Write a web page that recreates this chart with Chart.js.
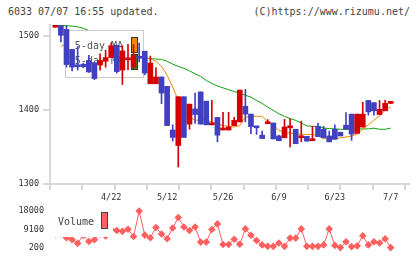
<!DOCTYPE html>
<html>
<head>
<meta charset="utf-8">
<script src="https://cdn.jsdelivr.net/npm/chart.js@4"></script>
<style>
body { margin: 0; background: #fff; }
#wrap { position: relative; width: 420px; height: 259px; overflow: hidden; }
.t { position: absolute; top: 6px; font: 10px "DejaVu Sans Mono", monospace; color: #444; white-space: pre; }
canvas { position: absolute; left: 0; }
</style>
</head>
<body>
<div id="wrap">
  <div class="t" style="left:8px">6033 07/07 16:55 updated.</div>
  <div class="t" style="right:10px">(C)https://www.rizumu.net/</div>
  <canvas id="price" width="420" height="205" style="top:0"></canvas>
  <canvas id="vol" width="420" height="59" style="top:200px"></canvas>
</div>
<script>
// daily candles (yen)
const open  = [1512,1514,1509,1482,1460.5,1462,1467,1464,1461,1466,1471,1487.5,1454,1468,1458,1472.5,1479.5,1435.5,1435.5,1444.7,
               1432,1373,1352,1418,1381,1401.5,1424.5,1412,1380,1390,1373,1373,1379,1384,1405,1394.5,1378,1366,1381.5,1382.5,
               1365,1362.5,1376,1374,1362.5,1364.5,1358.5,1378,1374,1365,1374,1370,1379.5,1394.5,1368.5,1377,1413,1410,1394,1399,1409];
const high  = [1514,1514,1514,1482,1486,1463,1474,1464,1476,1481,1491,1488,1487,1489,1488.5,1490.5,1479.5,1473,1457,1444.7,
               1432,1380,1418,1418,1408,1423,1424.5,1412,1413,1390,1397,1397,1390,1427,1428,1394.5,1378,1371.5,1387,1382.5,
               1366,1387.5,1388,1374,1385,1364.5,1378,1382,1378,1371.5,1380,1370,1396.7,1394.5,1394.5,1410.5,1413,1410,1413,1413,1410];
const low   = [1512,1492,1458,1453,1454,1457,1451,1441,1454,1458,1471,1450,1434.5,1454.5,1456,1465,1447.8,1435.5,1435.5,1408.5,
               1379,1358,1323,1363,1374,1382,1381,1380,1380,1357,1373,1373,1379,1384,1384,1368,1367,1361.5,1381.5,1361,
               1358.5,1362.5,1350,1354.5,1357,1358,1358.5,1364,1362.5,1357,1360.5,1365,1374,1359,1368.5,1377,1393,1393,1394,1399,1409];
const close = [1513.5,1501,1461.5,1458,1458.5,1458.5,1451.5,1442.6,1467,1471,1487,1452,1480,1469.5,1474,1470,1450,1463.5,1444.7,1423,
               1379,1363,1418,1363,1408,1394,1381,1380,1382,1366,1375,1377,1386,1427,1394.5,1377.5,1376,1361.5,1384,1361,
               1358.5,1377,1377.5,1354.5,1365,1358,1361,1364,1362.5,1357,1360.5,1365,1374,1367.5,1394.5,1394.5,1397.5,1399,1401,1409,1410];

// moving averages as drawn
const ma5  = [null,1486,1490,1476,1471,1466,1462,1459,1458,1459,1461,1463,1466,1467,1469,1470,1471,1469.5,1466,1459,
              1447,1431,1413,1402,1391,1386,1387,1387,1383.5,1381,1379,1378,1377,1379,1390.5,1391.3,1391.5,1391.5,1384,1379.6,
              1372.5,1370,1368.8,1368,1367.2,1367,1367,1365,1361.5,1360.5,1361,1362.5,1363.5,1365,1367.5,1374,1380,1386.5,1392,1400,1404];
const ma25 = [1514.5,1514.5,1514,1513.5,1512.5,1510.5,1507.5,1504,1500,1495,1491,1488,1484,1480,1476,1473,1470.3,1469.5,1469,1468.5,
              1466,1462,1459,1456.5,1453,1449,1445.5,1440,1436,1432.5,1430,1427.5,1425,1422.5,1420,1417.5,1413,1409,1404,1399.5,
              1395,1391.5,1388.5,1386,1382.5,1378.5,1378,1378,1375.5,1375,1374.5,1374,1374,1374,1374.5,1374.5,1374.5,1375.5,1374,1374,1375.5];

const volume = [6900,6900,5100,4200,2400,6400,3300,4200,6900,6000,9100,8650,8200,9250,5700,18000,6400,5100,10100,6900,
                4650,9850,14900,10300,8650,10300,3000,3000,9100,11800,1850,1850,4350,2000,9400,6300,3750,1650,950,950,
                2550,950,4950,4950,9400,950,950,950,1650,9400,1400,350,3200,800,1200,6100,1650,3200,2550,4650,350];

const xTickPos = [10, 20, 30, 40, 50, 60];
const xTickLabels = ['4/22', '5/12', '5/26', '6/9', '6/23', '7/7'];
const yTicks = [1300, 1400, 1500];
const volTicks = [200, 9100, 18000];

const UP = '#d40000', DOWN = '#4040c0';
const MA5C = '#f08800', MA25C = '#10a010', VOLC = '#ff5f5f', AXIS = '#d8d8d8';
const mono = '"DejaVu Sans Mono", monospace';
const axisFont = { family: mono, size: 8.5 };
const X_MIN = -0.95, X_MAX = 63.27;

const idx = close.map((c, i) => i);
const col = close.map((c, i) => c >= open[i] ? UP : DOWN);

// legend sits over the MA lines but under the candles
const priceLegend = {
  id: 'priceLegend',
  beforeDatasetDraw(chart, args) {
    if (args.index !== 1) return;
    const c = chart.ctx;
    c.save();
    c.fillStyle = '#fff';
    c.fillRect(65, 30, 78, 47);
    c.strokeStyle = '#cccccc';
    c.lineWidth = 1;
    c.strokeRect(65.5, 30.5, 78, 47);
    c.font = '10px ' + mono;
    c.fillStyle = '#555';
    c.textAlign = 'right';
    c.textBaseline = 'middle';
    c.fillText('5-day MA', 123, 46);
    c.fillText('25-day MA', 123, 61.5);
    c.strokeStyle = '#333';
    c.fillStyle = MA5C;
    c.fillRect(131, 37, 7, 15);
    c.strokeRect(131.5, 37.5, 6, 15);
    c.fillStyle = MA25C;
    c.fillRect(131, 54, 7, 15);
    c.strokeRect(131.5, 54.5, 6, 15);
    c.restore();
  }
};

new Chart(document.getElementById('price'), {
  type: 'bar',
  data: {
    datasets: [
      { type: 'bar', order: 0, grouped: false, barThickness: 5, minBarLength: 2,
        data: idx.map(i => ({ x: i, y: [Math.min(open[i], close[i]), Math.max(open[i], close[i])] })),
        backgroundColor: col },
      { type: 'bar', order: 1, grouped: false, barThickness: 1,
        data: idx.map(i => ({ x: i, y: [low[i], high[i]] })),
        backgroundColor: col },
      { type: 'line', order: 2, data: idx.map(i => ({ x: i, y: ma5[i] })),
        borderColor: MA5C, borderWidth: 1, pointRadius: 0 },
      { type: 'line', order: 3, data: idx.map(i => ({ x: i, y: ma25[i] })),
        borderColor: MA25C, borderWidth: 1, pointRadius: 0 }
    ]
  },
  options: {
    responsive: false,
    animation: false,
    layout: { padding: { top: 25, right: 11, left: 0, bottom: 0 } },
    plugins: { legend: { display: false }, tooltip: { enabled: false } },
    scales: {
      x: {
        type: 'linear', position: 'bottom', weight: 1, min: X_MIN, max: X_MAX, offset: false,
        grid: { display: false, drawTicks: false, offset: false },
        border: { display: true, color: AXIS, width: 2 },
        ticks: { font: axisFont, color: '#333', padding: 9, maxRotation: 0, autoSkip: false,
                 callback: v => xTickLabels[xTickPos.indexOf(v)] ?? '' },
        afterBuildTicks: s => { s.ticks = xTickPos.map(v => ({ value: v })); },
        afterFit: s => { s.height = 21; }
      },
      xt: {
        type: 'linear', axis: 'x', position: 'bottom', weight: 0, min: 0, max: 359 / 32.27, offset: false,
        grid: { drawOnChartArea: false, drawTicks: true, tickLength: 6, color: AXIS, lineWidth: 2, offset: false },
        border: { display: false },
        ticks: { display: false },
        afterBuildTicks: s => { s.ticks = Array.from({ length: 12 }, (_, k) => ({ value: k })); },
        afterFit: s => { s.height = 0; }
      },
      y: {
        min: 1300, max: 1515,
        grid: { drawOnChartArea: false, tickLength: 7, color: AXIS, lineWidth: 2 },
        border: { color: AXIS, width: 2 },
        ticks: { font: axisFont, color: '#333', padding: 4, callback: v => String(v) },
        afterBuildTicks: s => { s.ticks = yTicks.map(v => ({ value: v })); },
        afterFit: s => { s.width = 50; }
      }
    }
  },
  plugins: [priceLegend]
});

const volLegend = {
  id: 'volLegend',
  afterDatasetsDraw(chart) {
    const c = chart.ctx;
    c.save();
    c.fillStyle = '#fff';
    c.fillRect(48, 3, 65, 34);
    c.font = '10px ' + mono;
    c.fillStyle = '#444';
    c.textAlign = 'left';
    c.textBaseline = 'middle';
    c.fillText('Volume', 58, 22);
    c.fillStyle = VOLC;
    c.fillRect(102, 13, 5, 15);
    c.strokeStyle = '#444';
    c.lineWidth = 1;
    c.strokeRect(101.5, 12.5, 6, 16);
    c.restore();
  }
};

new Chart(document.getElementById('vol'), {
  type: 'line',
  data: {
    datasets: [{
      data: idx.map(i => ({ x: i, y: volume[i] })),
      borderColor: VOLC, borderWidth: 1, clip: false,
      pointStyle: 'rectRot', pointRadius: 3.8, pointBackgroundColor: VOLC, pointBorderWidth: 0
    }]
  },
  options: {
    responsive: false,
    animation: false,
    layout: { padding: { top: 9, bottom: 10, right: 11, left: 0 } },
    plugins: { legend: { display: false }, tooltip: { enabled: false } },
    scales: {
      x: { type: 'linear', min: X_MIN, max: X_MAX, display: false },
      y: {
        min: 200, max: 18000,
        grid: { display: false, drawTicks: false },
        border: { display: false },
        ticks: { font: axisFont, color: '#333', padding: 6, callback: v => String(v) },
        afterBuildTicks: s => { s.ticks = volTicks.map(v => ({ value: v })); },
        afterFit: s => { s.width = 50; }
      }
    }
  },
  plugins: [volLegend]
});
</script>
</body>
</html>
